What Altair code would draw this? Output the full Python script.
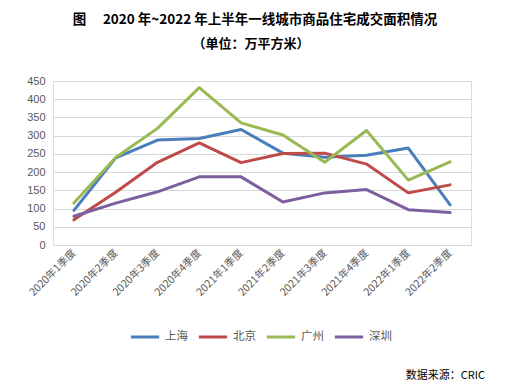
import altair as alt
import pandas as pd

quarters = ["2020年1季度", "2020年2季度", "2020年3季度", "2020年4季度",
            "2021年1季度", "2021年2季度", "2021年3季度", "2021年4季度",
            "2022年1季度", "2022年2季度"]
shanghai = [95, 239, 288, 292, 317, 252, 241, 246, 266, 110]
beijing = [69, 145, 227, 280, 226, 251, 252, 222, 143, 165]
guangzhou = [115, 240, 320, 432, 335, 302, 227, 314, 178, 228]
shenzhen = [79, 115, 146, 187, 187, 118, 143, 152, 97, 89]
cities = ["上海", "北京", "广州", "深圳"]
colors = ["#4A7EBB", "#BE4B48", "#98B954", "#7D5FA0"]
y_ticks = [0, 50, 100, 150, 200, 250, 300, 350, 400, 450]

title = "图\u3000 2020 年~2022 年上半年一线城市商品住宅成交面积情况"
subtitle = "（单位：万平方米）"
source = "数据来源：CRIC"

rows = []
for city, vals in zip(cities, [shanghai, beijing, guangzhou, shenzhen]):
    for q, v in zip(quarters, vals):
        rows.append({"季度": q, "城市": city, "面积": v})
df = pd.DataFrame(rows)

FONT = "Noto Sans CJK SC"

lines = alt.Chart(df).mark_line(strokeWidth=3, strokeCap="round", strokeJoin="round").encode(
    x=alt.X("季度:N", sort=quarters, title=None,
            scale=alt.Scale(type="point", padding=0.5),
            axis=alt.Axis(labelAngle=-45, labelAlign="right", labelBaseline="middle",
                          labelFontSize=10.5, labelColor="#595959", labelFont=FONT,
                          labelPadding=6, ticks=False, domain=False, grid=False)),
    y=alt.Y("面积:Q", title=None,
            scale=alt.Scale(domain=[0, 450], nice=False),
            axis=alt.Axis(values=y_ticks, labelFontSize=11, labelColor="#595959",
                          labelFont="Liberation Sans", labelPadding=8,
                          ticks=False, domain=False, gridColor="#D9D9D9", gridWidth=1)),
    color=alt.Color("城市:N", sort=cities,
                    scale=alt.Scale(domain=cities, range=colors),
                    legend=alt.Legend(title=None, orient="none", direction="horizontal",
                                      legendX=76, legendY=240,
                                      symbolType="stroke", symbolSize=800,
                                      symbolStrokeWidth=3, labelFontSize=11.5,
                                      labelFont=FONT, labelColor="#595959",
                                      columnPadding=4, symbolOffset=0, labelOffset=4)),
    detail="城市:N",
)

def txt(s, x, y, size, weight="normal", align="center", font=FONT, color="#000000"):
    return alt.Chart(pd.DataFrame({"t": [s]})).mark_text(
        fontSize=size, fontWeight=weight, align=align, baseline="middle",
        font=font, color=color
    ).encode(x=alt.value(x), y=alt.value(y), text="t:N")

chart = alt.layer(
    lines,
    txt(title, 202, -61, 13.5, "bold"),
    txt(subtitle, 198, -37, 13, "bold"),
    txt(source, 432, 295, 11, align="right"),
).properties(
    width=418, height=164,
    padding={"left": 45, "top": 73, "right": 28, "bottom": 136},
    autosize=alt.AutoSizeParams(type="none"),
).configure_view(stroke=None).configure(background="white")

chart.save("out.html", embed_options={"renderer": "svg", "actions": False})
